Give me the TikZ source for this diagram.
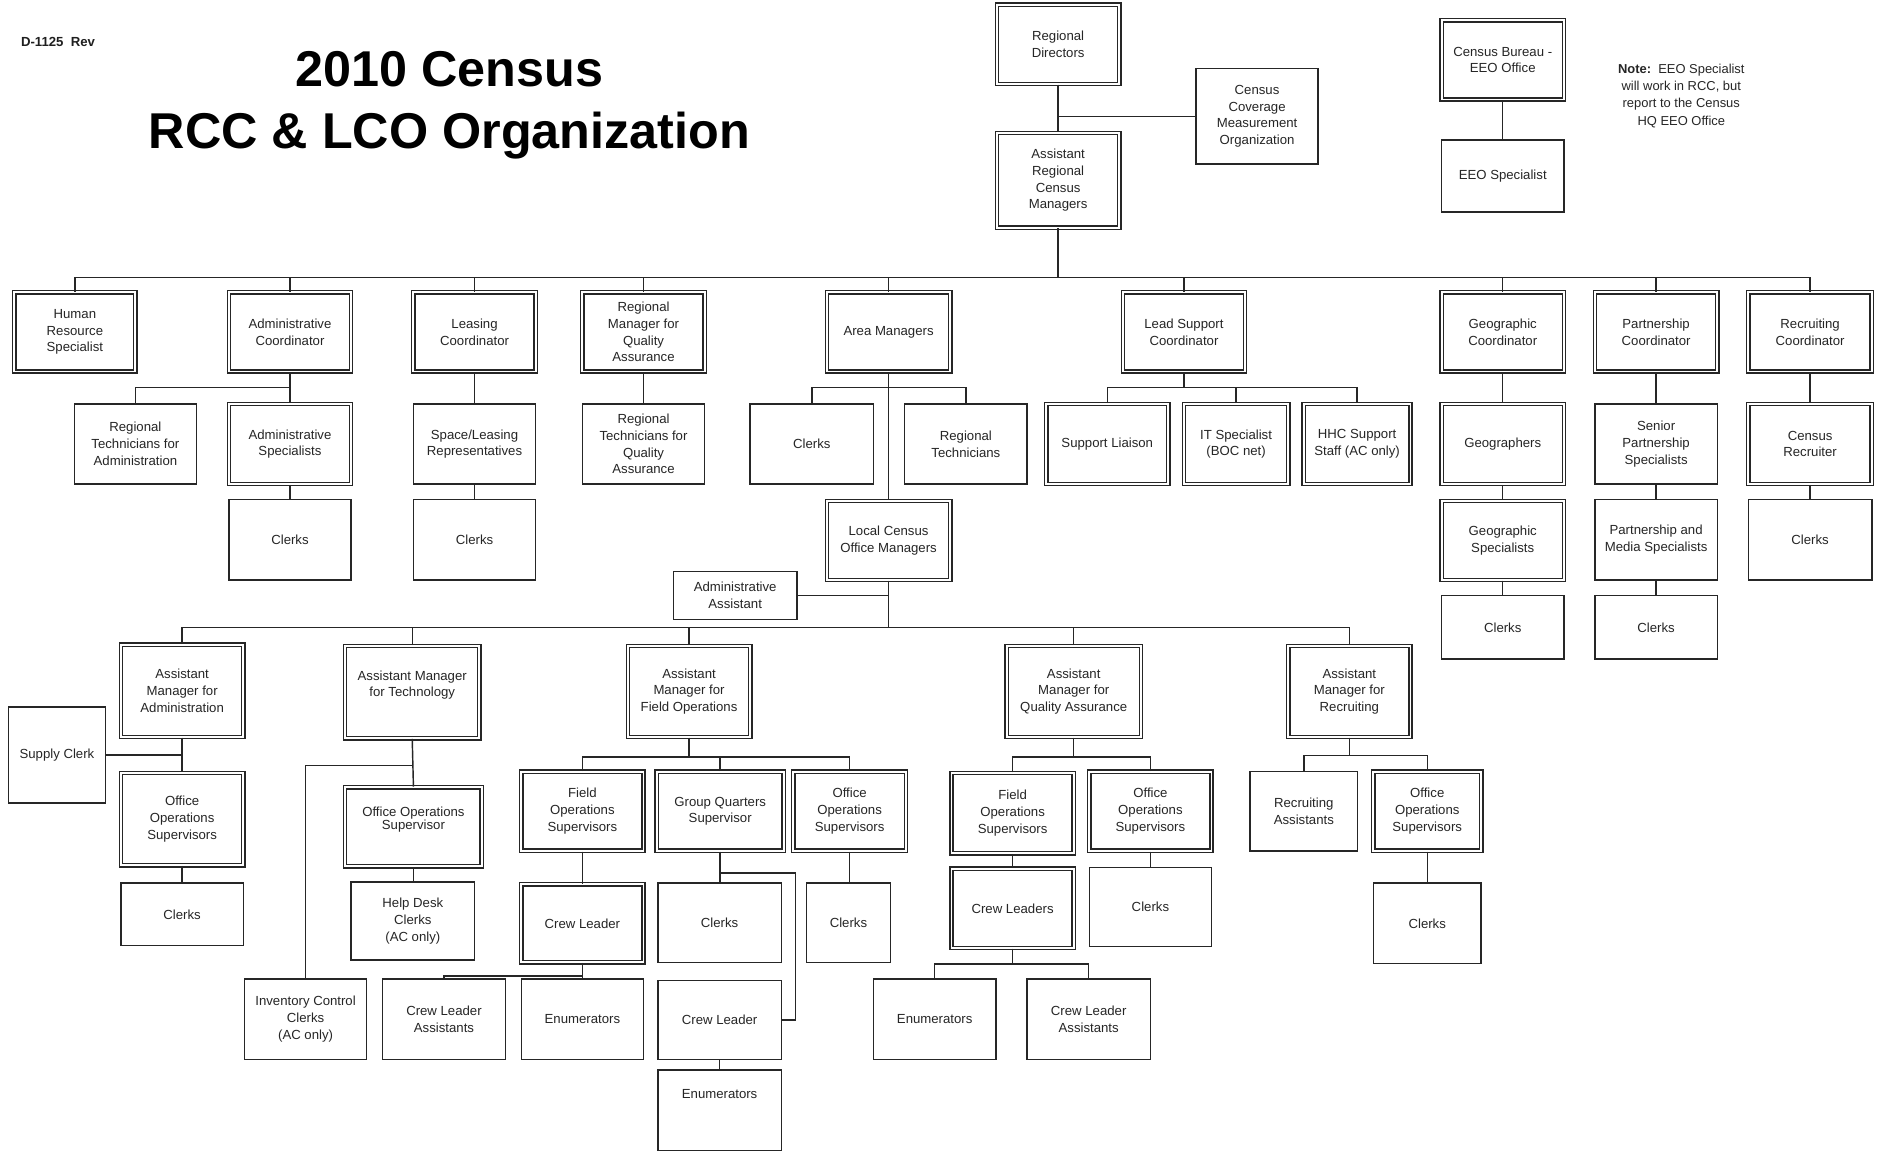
\documentclass[tikz,border=0pt]{standalone}
\usepackage{fontspec}
\setmainfont{Liberation Sans}
\usetikzlibrary{calc}
\tikzset{
  base/.style={inner sep=0pt, align=center, text=black!85, font=\fontsize{11}{14}\selectfont},
  sbox/.style={base, draw=black!85, line width=1.2pt},
  dbox/.style={base, draw=black!85, line width=1.15pt, double distance=1.6pt},
  conn/.style={draw=black!85, line width=1.2pt},
}
\newcommand{\bx}[7]{\node[#1, minimum width={#5-#3}, minimum height={#6-#4}] (#2) at ({(#3+#5)/2},{(#4+#6)/2}) {#7};}
\begin{document}
\begin{tikzpicture}[x=1pt,y=-1pt]
\useasboundingbox[fill=white] (0,0) rectangle (1568,961);
% titles
\node[anchor=west, font=\bfseries\fontsize{11}{12}\selectfont, text=black!88] (code) at (14,35) {D-1125\ \ Rev};
\node[anchor=base, font=\bfseries\fontsize{42}{50}\selectfont] (t1) at (375,72) {2010 Census};
\node[anchor=base, font=\bfseries\fontsize{42}{50}\selectfont] (t2) at (375,124) {RCC \& LCO Organization};
\node[base, font=\fontsize{10.8}{14.3}\selectfont] (note) at (1403,80) {\textbf{Note:}\ \ EEO Specialist\\will work in RCC, but\\report to the Census\\HQ EEO Office};
% top
\bx{dbox}{rd}{832}{4}{934}{70}{Regional\\Directors}
\bx{sbox}{ccmo}{998}{57}{1100}{137}{Census\\Coverage\\Measurement\\Organization}
\bx{dbox}{arcm}{832}{111}{934}{190}{Assistant\\Regional\\Census\\Managers}
\bx{dbox}{cbeeo}{1203}{17}{1305}{83}{Census Bureau -\\EEO Office}
\bx{sbox}{eeos}{1203}{117}{1305}{177}{EEO Specialist}
% row 2
\bx{dbox}{hrs}{12}{244}{113}{310}{Human\\Resource\\Specialist}
\bx{dbox}{ac}{191}{244}{293}{310}{Administrative\\Coordinator}
\bx{dbox}{lc}{345}{244}{447}{310}{Leasing\\Coordinator}
\bx{dbox}{rmqa}{486}{244}{588}{310}{Regional\\Manager for\\Quality\\Assurance}
\bx{dbox}{am}{690}{244}{793}{310}{Area Managers}
\bx{dbox}{lsc}{937}{244}{1039}{310}{Lead Support\\Coordinator}
\bx{dbox}{gc}{1203}{244}{1305}{310}{Geographic\\Coordinator}
\bx{dbox}{pc}{1331}{244}{1433}{310}{Partnership\\Coordinator}
\bx{dbox}{rc}{1459}{244}{1562}{310}{Recruiting\\Coordinator}
% row 3
\bx{sbox}{rta}{62}{337}{164}{404}{Regional\\Technicians for\\Administration}
\bx{dbox}{asp}{191}{337}{293}{404}{Administrative\\Specialists}
\bx{sbox}{slr}{345}{337}{447}{404}{Space/Leasing\\Representatives}
\bx{sbox}{rtqa}{486}{337}{588}{404}{Regional\\Technicians for\\Quality\\Assurance}
\bx{sbox}{amcl}{626}{337}{729}{404}{Clerks}
\bx{sbox}{rtn}{755}{337}{857}{404}{Regional\\Technicians}
\bx{dbox}{sl}{873}{337}{975}{404}{Support Liaison}
\bx{dbox}{its}{988}{337}{1075}{404}{IT Specialist\\(BOC net)}
\bx{dbox}{hhc}{1088}{337}{1177}{404}{HHC Support\\Staff (AC only)}
\bx{dbox}{geo}{1203}{337}{1305}{404}{Geographers}
\bx{sbox}{sps}{1331}{337}{1433}{404}{Senior\\Partnership\\Specialists}
\bx{dbox}{cr}{1459}{337}{1562}{404}{Census\\Recruiter}
% row 4
\bx{sbox}{ascl}{191}{417}{293}{484}{Clerks}
\bx{sbox}{lccl}{345}{417}{447}{484}{Clerks}
\bx{dbox}{lcom}{690}{418}{793}{484}{Local Census\\Office Managers}
\bx{dbox}{gs}{1203}{418}{1305}{484}{Geographic\\Specialists}
\bx{sbox}{pms}{1331}{417}{1433}{484}{Partnership and\\Media Specialists}
\bx{sbox}{rccl}{1459}{417}{1562}{484}{Clerks}
\bx{sbox}{gcl}{1203}{497}{1305}{550}{Clerks}
\bx{sbox}{pcl}{1331}{497}{1433}{550}{Clerks}
\bx{sbox}{aa}{562}{477}{665}{517}{Administrative\\Assistant}
% LCO row
\bx{dbox}{ama}{101}{538}{203}{615}{Assistant\\Manager for\\Administration}
\bx{dbox}{amt}{288}{539}{400}{616}{Assistant Manager\\for Technology\\\mbox{}}
\bx{dbox}{amfo}{524}{539}{626}{615}{Assistant\\Manager for\\Field Operations}
\bx{dbox}{amqa}{840}{539}{952}{615}{Assistant\\Manager for\\Quality Assurance}
\bx{dbox}{amr}{1075}{539}{1177}{615}{Assistant\\Manager for\\Recruiting}
% administration
\bx{sbox}{sc}{7}{590}{88}{670}{Supply Clerk}
\bx{dbox}{oosa}{101}{645}{203}{722}{Office\\Operations\\Supervisors}
\bx{sbox}{cla}{101}{737}{203}{789}{Clerks}
% technology
\bx{dbox}{oost}{288}{657}{402}{723}{Office Operations\\[-3pt]Supervisor\\\mbox{}}
\bx{sbox}{hdc}{293}{736}{396}{801}{Help Desk\\Clerks\\(AC only)}
\bx{sbox}{icc}{204}{817}{306}{884}{Inventory Control\\Clerks\\(AC only)}
% field operations
\bx{dbox}{fos}{435}{644}{537}{710}{Field\\Operations\\Supervisors}
\bx{dbox}{gqs}{548}{644}{654}{710}{Group Quarters\\Supervisor}
\bx{dbox}{oosf}{662}{644}{756}{710}{Office\\Operations\\Supervisors}
\bx{dbox}{crl}{435}{738}{537}{803}{Crew Leader}
\bx{sbox}{cla2}{319}{817}{422}{884}{Crew Leader\\Assistants}
\bx{sbox}{enf}{435}{817}{537}{884}{Enumerators}
\bx{sbox}{gqcl}{549}{737}{652}{803}{Clerks}
\bx{sbox}{gqcr}{549}{818}{652}{884}{Crew Leader}
\bx{sbox}{gqen}{549}{893}{652}{960}{Enumerators\\\mbox{}\\\mbox{}}
\bx{sbox}{ofcl}{673}{737}{743}{803}{Clerks}
% quality assurance
\bx{dbox}{fosq}{794}{645}{896}{712}{Field\\Operations\\Supervisors}
\bx{dbox}{oosq}{909}{644}{1011}{710}{Office\\Operations\\Supervisors}
\bx{dbox}{crlq}{794}{725}{896}{791}{Crew Leaders}
\bx{sbox}{enq}{729}{817}{831}{884}{Enumerators}
\bx{sbox}{claq}{857}{817}{960}{884}{Crew Leader\\Assistants}
\bx{sbox}{clq}{909}{724}{1011}{790}{Clerks}
% recruiting
\bx{sbox}{ras}{1043}{644}{1133}{710}{Recruiting\\Assistants}
\bx{dbox}{oosr}{1146}{644}{1236}{710}{Office\\Operations\\Supervisors}
\bx{sbox}{clr}{1146}{737}{1236}{804}{Clerks}
% ---------- connectors ----------
\draw[conn] (rd.south) -- (arcm.north);
\draw[conn] (ccmo.west) -- (ccmo.west -| rd.south);
\draw[conn] (cbeeo.south) -- (eeos.north);
\coordinate (bTop) at ($(arcm.south)+(0,41)$);
\draw[conn] (arcm.south) -- (bTop);
\foreach \c in {hrs,ac,lc,rmqa,am,lsc,gc,pc,rc} \draw[conn] (\c.north) |- (bTop);
% admin coordinator
\coordinate (bAC) at ($(ac.south)+(0,13)$);
\draw[conn] (ac.south) -- (asp.north);
\draw[conn] (rta.north) |- (bAC);
\draw[conn] (asp.south) -- (ascl.north);
\draw[conn] (lc.south) -- (slr.north);
\draw[conn] (slr.south) -- (lccl.north);
\draw[conn] (rmqa.south) -- (rtqa.north);
% area managers
\coordinate (bAM) at ($(am.south)+(0,13)$);
\draw[conn] (am.south) -- (lcom.north);
\draw[conn] (amcl.north) |- (bAM);
\draw[conn] (rtn.north) |- (bAM);
% lead support
\coordinate (bLSC) at ($(lsc.south)+(0,13)$);
\draw[conn] (lsc.south) -- (bLSC);
\foreach \c in {sl,its,hhc} \draw[conn] (\c.north) |- (bLSC);
% right columns
\draw[conn] (gc.south) -- (geo.north);
\draw[conn] (geo.south) -- (gs.north);
\draw[conn] (gs.south) -- (gcl.north);
\draw[conn] (pc.south) -- (sps.north);
\draw[conn] (sps.south) -- (pms.north);
\draw[conn] (pms.south) -- (pcl.north);
\draw[conn] (rc.south) -- (cr.north);
\draw[conn] (cr.south) -- (rccl.north);
% LCO managers
\coordinate (bLCO) at ($(lcom.south)+(0,39)$);
\draw[conn] (lcom.south) -- (bLCO);
\draw[conn] (aa.east) -- (aa.east -| lcom.south);
\foreach \c in {ama,amt,amfo,amqa,amr} \draw[conn] (\c.north) |- (bLCO);
% administration
\draw[conn] (ama.south) -- (oosa.north);
\draw[conn] (sc.east) -- (sc.east -| ama.south);
\draw[conn] (oosa.south) -- (cla.north);
% technology
\coordinate (bT) at ($(amt.south)+(0,22)$);
\draw[conn] (amt.south) -- (oost.north);
\draw[conn] (icc.north) |- (bT);
\draw[conn] (oost.south) -- (oost.south |- hdc.north);
% field operations
\coordinate (bFO) at ($(amfo.south)+(0,16)$);
\draw[conn] (amfo.south) -- (bFO);
\foreach \c in {fos,gqs,oosf} \draw[conn] (\c.north) |- (bFO);
\draw[conn] (fos.south) -- (crl.north);
\coordinate (bCL) at ($(crl.south)+(0,11)$);
\draw[conn] (crl.south) -- (bCL);
\draw[conn] (cla2.north) |- (bCL);
\draw[conn] (enf.north) |- (bCL);
\coordinate (bGQ) at ($(gqs.south)+(0,18)$);
\draw[conn] (gqs.south) -- (gqs.south |- gqcl.north);
\draw[conn] (gqcr.east) -- ++(11,0) |- (bGQ);
\draw[conn] (gqcr.south) -- (gqen.north);
\draw[conn] (oosf.south) -- (oosf.south |- ofcl.north);
% quality assurance
\coordinate (bQA) at ($(amqa.south)+(0,16)$);
\draw[conn] (amqa.south) -- (bQA);
\draw[conn] (fosq.north) |- (bQA);
\draw[conn] (oosq.north) |- (bQA);
\draw[conn] (fosq.south) -- (crlq.north);
\draw[conn] (oosq.south) -- (clq.north);
\coordinate (bCLQ) at ($(crlq.south)+(0,13)$);
\draw[conn] (crlq.south) -- (bCLQ);
\draw[conn] (enq.north) |- (bCLQ);
\draw[conn] (claq.north) |- (bCLQ);
% recruiting
\coordinate (bR) at ($(amr.south)+(0,15)$);
\draw[conn] (amr.south) -- (bR);
\draw[conn] (ras.north) |- (bR);
\draw[conn] (oosr.north) |- (bR);
\draw[conn] (oosr.south) -- (clr.north);
\end{tikzpicture}
\end{document}
